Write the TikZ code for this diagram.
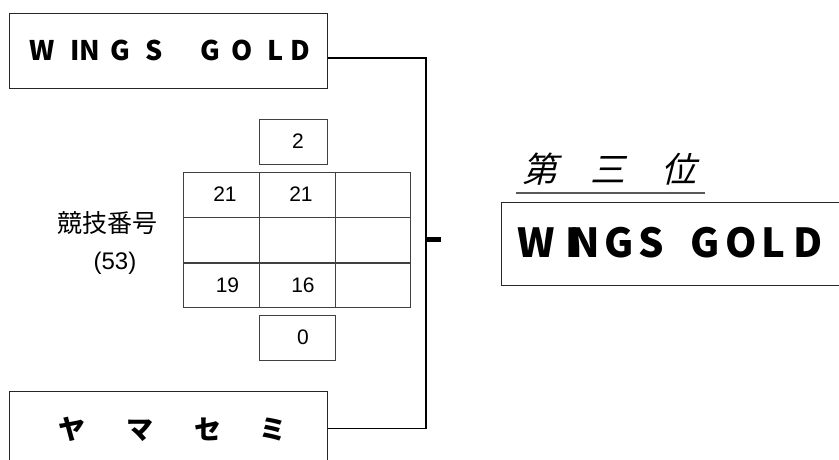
\documentclass[tikz,border=0pt]{standalone}
\usepackage{fontspec}
\setmainfont{Liberation Sans}
\newfontfamily\jp{Noto Sans CJK JP}
\newfontfamily\jpsl[FakeSlant=0.25]{Noto Sans CJK JP}
\newcommand\lp[2]{\makebox[0pt][l]{#2}\hspace{#1pt}}
\newcommand\cp[2]{\makebox[0pt]{#2}\hspace{#1pt}}
\tikzset{
  namebox/.style={draw=black!85, line width=1pt, inner sep=0pt, rectangle},
  cellbox/.style={draw=black!75, line width=0.9pt, inner sep=0pt, rectangle, font=\fontsize{21}{21}\selectfont},
  txt/.style={inner sep=0pt, outer sep=0pt},
  link/.style={draw=black, line width=1.2pt},
}
\begin{document}
\begin{tikzpicture}[x=1pt, y=-1pt]
\useasboundingbox (0,0) rectangle (839,459);
% team boxes
\node[namebox, minimum width=318pt, minimum height=75pt] (top) at (168,50.5) {};
\node[namebox, minimum width=318pt, minimum height=75pt] (bot) at (168,428.5) {};
\node[namebox, minimum width=359pt, minimum height=83pt] (win) at (680.5,243.5) {};
% team names
\node[txt, anchor=base west, font=\jp\bfseries\fontsize{27}{27}\selectfont] (topname) at (29.7,60)
  {\lp{40.9}{W}\lp{9}{I}\lp{30.8}{N}\lp{35.25}{G}\lp{54.75}{S}\lp{31}{G}\lp{36.2}{O}\lp{23}{L}D};
\node[txt, anchor=base west, font=\jp\bfseries\fontsize{27}{27}\selectfont] (botname) at (72,439)
  {\cp{68}{ヤ}\cp{68}{マ}\cp{65}{セ}\makebox[0pt]{ミ}};
\node[txt, anchor=base west, font=\jp\bfseries\fontsize{40}{40}\selectfont] (winname) at (517.6,257)
  {\lp{47.8}{W}\lp{4}{I}\lp{35.2}{N}\lp{33.4}{G}\lp{52.6}{S}\lp{35}{G}\lp{35.8}{O}\lp{32}{L}D};
% rank title
\node[txt, anchor=base west, font=\jpsl\fontsize{35}{35}\selectfont] (rank) at (540,182.5)
  {\cp{68}{第}\cp{71}{三}\makebox[0pt]{位}};
\coordinate (ul1) at (516,193);
\coordinate (ul2) at (705,193);
\draw[draw=black!65, line width=2pt] (ul1) -- (ul2);
% match label
\node[txt, font=\jp\fontsize{25}{25}\selectfont] (lab) at (107.5,223.5) {競技番号};
\node[txt, font=\fontsize{24}{24}\selectfont] (num) at (115,263.5) {(53)};
% score grid
\node[cellbox, minimum width=68pt, minimum height=45pt] (s1) at (293,141.5) {\hspace{10pt}2};
\node[cellbox, minimum width=76pt, minimum height=45pt] (a1) at (221,194.5) {\hspace{8pt}21};
\node[cellbox, minimum width=76pt, minimum height=45pt] (b1) at (297,194.5) {\hspace{8pt}21};
\node[cellbox, minimum width=75pt, minimum height=45pt] (c1) at (372.5,194.5) {};
\node[cellbox, minimum width=76pt, minimum height=45pt] (a2) at (221,240) {};
\node[cellbox, minimum width=76pt, minimum height=45pt] (b2) at (297,240) {};
\node[cellbox, minimum width=75pt, minimum height=45pt] (c2) at (372.5,240) {};
\node[cellbox, minimum width=76pt, minimum height=44pt] (a3) at (221,285.5) {\hspace{13pt}19};
\node[cellbox, minimum width=76pt, minimum height=44pt] (b3) at (297,285.5) {\hspace{12pt}16};
\node[cellbox, minimum width=75pt, minimum height=44pt] (c3) at (372.5,285.5) {};
\node[cellbox, minimum width=76pt, minimum height=45pt] (s2) at (297,337.5) {\hspace{12pt}0};
% bracket
\coordinate (vx) at (426,239.5);
\coordinate (tk) at (441,239.5);
\draw[link] ([yshift=-7.5pt]top.east) -| (vx) |- (bot.east);
\draw[line width=4.5pt] (vx) -- (tk);
\end{tikzpicture}
\end{document}
